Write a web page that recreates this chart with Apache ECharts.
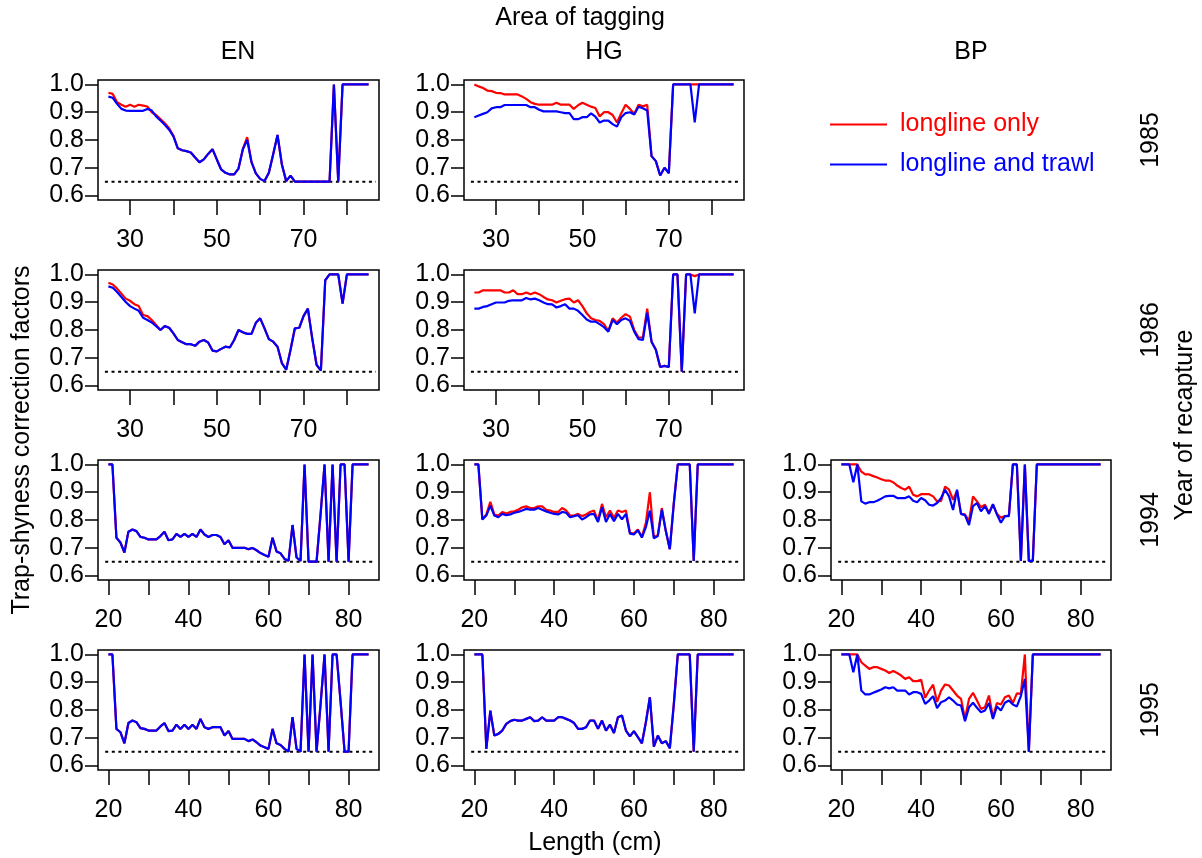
<!DOCTYPE html>
<html>
<head>
<meta charset="utf-8">
<script src="https://cdn.jsdelivr.net/npm/echarts@6/dist/echarts.min.js"></script>
<style>
html,body{margin:0;padding:0;background:#fff;}
#chart{width:1202px;height:858px;}
</style>
</head>
<body>
<div id="chart"></div>
<script>
// ---------- categories (length, cm) ----------
const lengthsEarly = [25,26,27,28,29,30,31,32,33,34,35,36,37,38,39,40,41,42,43,44,45,46,47,48,49,50,51,52,53,54,55,56,57,58,59,60,61,62,63,64,65,66,67,68,69,70,71,72,73,74,75,76,77,78,79,80,81,82,83,84,85];
const lengthsLate = [20,21,22,23,24,25,26,27,28,29,30,31,32,33,34,35,36,37,38,39,40,41,42,43,44,45,46,47,48,49,50,51,52,53,54,55,56,57,58,59,60,61,62,63,64,65,66,67,68,69,70,71,72,73,74,75,76,77,78,79,80,81,82,83,84,85];

// ---------- tick labels ----------
const xTicksEarly = [30,40,50,60,70,80];
const xLabelsEarly = [30,50,70];
const xTicksLate = [20,30,40,50,60,70,80];
const xLabelsLate = [20,40,60,80];
const yTicks = [0.6,0.7,0.8,0.9,1.0];
const refLevel = 0.65;

const areas = ['EN','HG','BP'];
const years = ['1985','1986','1994','1995'];

// ---------- series values ----------
// 1985 EN (25..85)
const en1985Red = [.970,.966,.936,.927,.920,.927,.920,.927,.924,.920,.900,.890,.875,.860,.842,.815,
  .770,.763,.760,.755,.737,.720,.730,.750,.767,.730,.694,.682,.676,.676,.697,.767,.810,.720,.680,.660,.652,.682,.749,.818,.712,.652,.672,
  .650,.650,.650,.650,.650,.650,.650,.650,.650,1.0,.650,1.0,1.0,1.0,1.0,1.0,1.0,1.0];
const en1985Blue = [.956,.952,.930,.912,.906,.905,.905,.905,.905,.912,.906,.885,.870,.855,.837,.813,
  .770,.763,.760,.755,.737,.720,.730,.750,.767,.730,.694,.682,.676,.676,.697,.767,.800,.720,.680,.660,.652,.682,.749,.818,.712,.652,.672,
  .650,.650,.650,.650,.650,.650,.650,.650,.650,1.0,.650,1.0,1.0,1.0,1.0,1.0,1.0,1.0];
// 1985 HG (25..85)
const hg1985Red = [1.0,.993,.987,.978,.976,.970,.969,.964,.964,.964,.964,.957,.948,.936,.930,.927,.927,.927,.927,.934,.927,.927,.927,.912,.925,
  .934,.927,.920,.915,.885,.900,.900,.890,.863,.896,.927,.912,.894,.927,.921,.927,.742,.724,.672,.700,.682,
  1.0,1.0,1.0,1.0,1.0,1.0,1.0,1.0,1.0,1.0,1.0,1.0,1.0,1.0,1.0];
const hg1985Blue = [.882,.888,.894,.900,.914,.918,.918,.926,.926,.926,.926,.926,.926,.918,.918,.909,.903,.903,.903,.903,.900,.897,.897,.875,.875,
  .882,.882,.896,.884,.863,.870,.870,.857,.848,.882,.897,.900,.892,.920,.914,.906,.742,.724,.672,.700,.680,
  1.0,1.0,1.0,1.0,1.0,.863,1.0,1.0,1.0,1.0,1.0,1.0,1.0,1.0,1.0];
// 1986 EN (25..85)
const en1986Red = [.970,.964,.949,.931,.913,.905,.893,.886,.854,.850,.836,.818,.800,.814,.808,.788,.764,.756,.749,.749,.743,.758,.764,.755,.726,
  .723,.732,.740,.737,.764,.800,.792,.786,.786,.826,.842,.806,.767,.758,.740,.681,.657,.729,.806,.808,.850,.877,.770,.675,.654,.979,
  1.0,1.0,1.0,.895,1.0,1.0,1.0,1.0,1.0,1.0];
const en1986Blue = [.957,.952,.937,.919,.901,.886,.877,.869,.844,.836,.827,.814,.800,.814,.808,.788,.764,.756,.749,.749,.743,.758,.764,.755,.726,
  .723,.732,.740,.737,.764,.800,.792,.786,.786,.826,.842,.806,.767,.758,.740,.681,.657,.729,.806,.808,.850,.877,.770,.675,.654,.979,
  1.0,1.0,1.0,.895,1.0,1.0,1.0,1.0,1.0,1.0];
// 1986 HG (25..85)
const hg1986Red = [.935,.935,.943,.943,.943,.943,.943,.935,.935,.943,.929,.929,.935,.929,.935,.929,.919,.910,.907,.899,.905,.911,.913,.899,.907,
  .886,.860,.842,.836,.833,.821,.796,.842,.827,.844,.857,.848,.800,.773,.773,.877,.758,.729,.667,.671,.667,
  1.0,1.0,.650,1.0,1.0,.994,1.0,1.0,1.0,1.0,1.0,1.0,1.0,1.0,1.0];
const hg1986Blue = [.877,.877,.883,.886,.893,.899,.899,.899,.905,.907,.907,.907,.915,.910,.913,.907,.899,.893,.892,.881,.886,.893,.877,.877,.869,
  .854,.838,.830,.830,.821,.810,.794,.836,.821,.836,.842,.833,.794,.767,.764,.862,.758,.729,.667,.671,.667,
  1.0,1.0,.650,1.0,1.0,.860,1.0,1.0,1.0,1.0,1.0,1.0,1.0,1.0,1.0];
// 1994 EN (20..85)
const en1994Red = [1.0,1.0,.736,.719,.683,.758,.766,.760,.739,.736,.730,.730,.730,.742,.758,.727,.730,.750,.739,.750,.739,.750,.739,.766,.748,
  .739,.746,.746,.739,.713,.727,.700,.700,.700,.700,.695,.699,.691,.681,.674,.668,.736,.687,.680,.660,.653,.782,.665,.653,
  1.0,.650,.650,.650,.820,1.0,.650,1.0,.650,1.0,1.0,.650,1.0,1.0,1.0,1.0,1.0];
const en1994Blue = [1.0,1.0,.736,.719,.683,.758,.766,.760,.739,.736,.730,.730,.730,.742,.758,.727,.730,.750,.739,.750,.739,.750,.739,.766,.748,
  .739,.746,.746,.739,.713,.727,.700,.700,.700,.700,.695,.699,.691,.681,.674,.668,.736,.687,.680,.660,.653,.782,.665,.653,
  1.0,.650,.650,.650,.820,1.0,.650,1.0,.650,1.0,1.0,.650,1.0,1.0,1.0,1.0,1.0];
// 1994 HG (20..85)
const hg1994Red = [1.0,1.0,.802,.820,.865,.820,.816,.829,.823,.829,.831,.837,.846,.849,.843,.843,.849,.849,.837,.834,.829,.829,.843,.834,.816,
  .816,.822,.814,.820,.829,.834,.798,.858,.810,.834,.808,.834,.829,.834,.754,.751,.766,.739,.790,.900,.737,.746,.843,.760,.695,.860,
  1.0,1.0,1.0,1.0,.653,1.0,1.0,1.0,1.0,1.0,1.0,1.0,1.0,1.0,1.0];
const hg1994Blue = [1.0,1.0,.802,.816,.852,.816,.810,.822,.817,.820,.826,.829,.834,.840,.837,.837,.843,.837,.831,.826,.822,.820,.829,.826,.810,
  .814,.817,.802,.810,.820,.822,.793,.846,.793,.822,.796,.822,.802,.822,.751,.748,.763,.737,.774,.834,.734,.742,.837,.760,.695,.860,
  1.0,1.0,1.0,1.0,.653,1.0,1.0,1.0,1.0,1.0,1.0,1.0,1.0,1.0,1.0];
// 1994 BP (20..85)
const bp1994Red = [1.0,1.0,1.0,1.0,1.0,.974,.964,.964,.958,.953,.947,.942,.942,.936,.924,.915,.909,.920,.891,.885,.893,.893,.893,.885,.867,
  .869,.920,.909,.873,.905,.822,.820,.796,.885,.867,.846,.855,.826,.855,.822,.808,.814,.816,1.0,1.0,.653,1.0,.653,.653,
  1.0,1.0,1.0,1.0,1.0,1.0,1.0,1.0,1.0,1.0,1.0,1.0,1.0,1.0,1.0,1.0,1.0];
const bp1994Blue = [1.0,1.0,1.0,.936,1.0,.867,.859,.864,.864,.869,.877,.885,.887,.887,.879,.879,.879,.885,.869,.864,.879,.871,.855,.852,.861,
  .879,.909,.885,.836,.909,.822,.817,.782,.850,.861,.831,.850,.822,.857,.820,.790,.814,.814,1.0,1.0,.653,1.0,.653,.653,
  1.0,1.0,1.0,1.0,1.0,1.0,1.0,1.0,1.0,1.0,1.0,1.0,1.0,1.0,1.0,1.0,1.0];
// 1995 EN (20..85)
const en1995Red = [1.0,1.0,.732,.720,.680,.753,.762,.756,.735,.732,.726,.726,.726,.741,.753,.724,.726,.747,.732,.747,.732,.747,.732,.768,.738,
  .732,.738,.738,.738,.708,.724,.696,.696,.696,.696,.688,.694,.684,.672,.666,.660,.732,.680,.674,.660,.650,.774,.660,.650,
  1.0,.650,1.0,.650,.820,1.0,.650,1.0,1.0,.830,.650,.650,1.0,1.0,1.0,1.0,1.0];
const en1995Blue = [1.0,1.0,.732,.720,.680,.753,.762,.756,.735,.732,.726,.726,.726,.741,.753,.724,.726,.747,.732,.747,.732,.747,.732,.768,.738,
  .732,.738,.738,.738,.708,.724,.696,.696,.696,.696,.688,.694,.684,.672,.666,.660,.732,.680,.674,.660,.650,.774,.660,.650,
  1.0,.650,1.0,.650,.820,1.0,.650,1.0,1.0,.830,.650,.650,1.0,1.0,1.0,1.0,1.0];
// 1995 HG (20..85)
const hg1995Red = [1.0,1.0,1.0,.660,.798,.708,.714,.726,.750,.760,.765,.762,.762,.768,.774,.760,.762,.774,.762,.762,.762,.774,.774,.768,.762,
  .753,.732,.732,.738,.762,.762,.732,.762,.726,.747,.717,.774,.780,.726,.705,.724,.702,.680,.756,.846,.668,.708,.680,.688,.662,.820,
  1.0,1.0,1.0,1.0,.650,1.0,1.0,1.0,1.0,1.0,1.0,1.0,1.0,1.0,1.0];
const hg1995Blue = [1.0,1.0,1.0,.660,.798,.708,.714,.726,.750,.760,.765,.762,.762,.768,.774,.760,.762,.774,.762,.762,.762,.774,.774,.768,.762,
  .753,.732,.732,.738,.762,.762,.732,.762,.726,.747,.717,.774,.780,.726,.705,.724,.702,.680,.756,.846,.668,.708,.680,.688,.662,.820,
  1.0,1.0,1.0,1.0,.650,1.0,1.0,1.0,1.0,1.0,1.0,1.0,1.0,1.0,1.0];
// 1995 BP (20..85)
const bp1995Red = [1.0,1.0,1.0,1.0,1.0,.972,.960,.948,.954,.954,.948,.942,.933,.940,.933,.924,.912,.918,.904,.904,.909,.844,.870,.891,.829,
  .870,.892,.888,.870,.852,.840,.768,.840,.862,.834,.804,.810,.852,.774,.825,.820,.846,.852,.825,.860,.858,1.0,.650,
  1.0,1.0,1.0,1.0,1.0,1.0,1.0,1.0,1.0,1.0,1.0,1.0,1.0,1.0,1.0,1.0,1.0,1.0];
const bp1995Blue = [1.0,1.0,1.0,.936,1.0,.870,.856,.856,.862,.868,.874,.882,.878,.882,.870,.870,.870,.856,.864,.864,.858,.822,.834,.850,.807,
  .828,.834,.846,.834,.820,.816,.760,.810,.826,.808,.792,.798,.825,.768,.813,.798,.826,.834,.820,.813,.850,.912,.650,
  1.0,1.0,1.0,1.0,1.0,1.0,1.0,1.0,1.0,1.0,1.0,1.0,1.0,1.0,1.0,1.0,1.0,1.0];

// ---------- panels ----------
const panels = [
  {row:0,col:0,red:en1985Red,blue:en1985Blue},
  {row:0,col:1,red:hg1985Red,blue:hg1985Blue},
  {row:1,col:0,red:en1986Red,blue:en1986Blue},
  {row:1,col:1,red:hg1986Red,blue:hg1986Blue},
  {row:2,col:0,red:en1994Red,blue:en1994Blue},
  {row:2,col:1,red:hg1994Red,blue:hg1994Blue},
  {row:2,col:2,red:bp1994Red,blue:bp1994Blue},
  {row:3,col:0,red:en1995Red,blue:en1995Blue},
  {row:3,col:1,red:hg1995Red,blue:hg1995Blue},
  {row:3,col:2,red:bp1995Red,blue:bp1995Blue}
];

// ---------- layout ----------
const FONT = '"Liberation Sans", Arial, Helvetica, sans-serif';
const FS = 25;
const colLeft = [98, 464, 831];
const colWidth = [281, 280, 280];
const rowTop = [80, 270, 460, 650];
const rowHeight = 120;
const RED = '#ff0000', BLUE = '#0000ff';

const grids = [], xAxes = [], yAxes = [], series = [];
panels.forEach((p, i) => {
  const early = p.row < 2;
  const xs = early ? lengthsEarly : lengthsLate;
  grids.push({left: colLeft[p.col], top: rowTop[p.row], width: colWidth[p.col], height: rowHeight,
    show: true, borderColor: '#000', borderWidth: 1.5, backgroundColor: 'transparent', containLabel: false});
  xAxes.push({
    gridIndex: i, type: 'value',
    min: early ? 22.6 : 17.4, max: early ? 87.4 : 87.6,
    axisLine: {show: false}, splitLine: {show: false},
    axisTick: {show: true, length: 15, lineStyle: {color: '#000', width: 1.5}, customValues: early ? xTicksEarly : xTicksLate},
    axisLabel: {show: true, customValues: early ? xLabelsEarly : xLabelsLate, margin: 28, fontSize: FS, fontFamily: FONT, color: '#000'}
  });
  yAxes.push({
    gridIndex: i, type: 'value', min: 0.584, max: 1.016,
    axisLine: {show: false}, splitLine: {show: false},
    axisTick: {show: true, length: 13, lineStyle: {color: '#000', width: 1.5}, customValues: yTicks},
    axisLabel: {show: true, customValues: yTicks, formatter: v => Number(v).toFixed(1), margin: 14, fontSize: FS, fontFamily: FONT, color: '#000'}
  });
  const refX = early ? [24.2, 86.7] : [19.2, 86.5];
  series.push({
    type: 'line', name: 'ref', xAxisIndex: i, yAxisIndex: i, symbol: 'none', silent: true,
    data: [[refX[0], refLevel], [refX[1], refLevel]],
    lineStyle: {color: '#000', width: 2, type: [3, 3.6]}, z: 1
  });
  series.push({
    type: 'line', name: 'longline only', xAxisIndex: i, yAxisIndex: i, symbol: 'none',
    data: xs.map((x, k) => [x, p.red[k]]), color: RED,
    lineStyle: {color: RED, width: 2.2}, z: 2
  });
  series.push({
    type: 'line', name: 'longline and trawl', xAxisIndex: i, yAxisIndex: i, symbol: 'none',
    data: xs.map((x, k) => [x, p.blue[k]]), color: BLUE,
    lineStyle: {color: BLUE, width: 2.2}, z: 3
  });
});

function txt(text, x, y, rot) {
  return {type: 'text', x: x, y: y, rotation: rot || 0,
    style: {text: text, fill: '#000', font: FS + 'px ' + FONT, align: 'center', verticalAlign: 'middle'}};
}
const graphics = [
  txt('Area of tagging', 580, 18),
  txt(areas[0], 238, 52), txt(areas[1], 604, 52), txt(areas[2], 971, 52),
  txt(years[0], 1151, 140, Math.PI/2), txt(years[1], 1151, 330, Math.PI/2),
  txt(years[2], 1151, 520, Math.PI/2), txt(years[3], 1151, 710, Math.PI/2),
  txt('Year of recapture', 1185, 425, Math.PI/2),
  txt('Trap-shyness correction factors', 22, 440, Math.PI/2),
  txt('Length (cm)', 595, 843)
];

const chart = echarts.init(document.getElementById('chart'), null, {renderer: 'canvas'});
chart.setOption({
  animation: false,
  backgroundColor: '#fff',
  grid: grids, xAxis: xAxes, yAxis: yAxes, series: series,
  legend: {
    data: [{name: 'longline only', textStyle: {color: RED}}, {name: 'longline and trawl', textStyle: {color: BLUE}}],
    orient: 'vertical', left: 825, top: 107, icon: 'rect', itemWidth: 57, itemHeight: 2, itemGap: 15,
    selectedMode: false,
    textStyle: {fontSize: FS, fontFamily: FONT, padding: [0, 0, 0, 8]}
  },
  graphic: graphics
});
</script>
</body>
</html>
